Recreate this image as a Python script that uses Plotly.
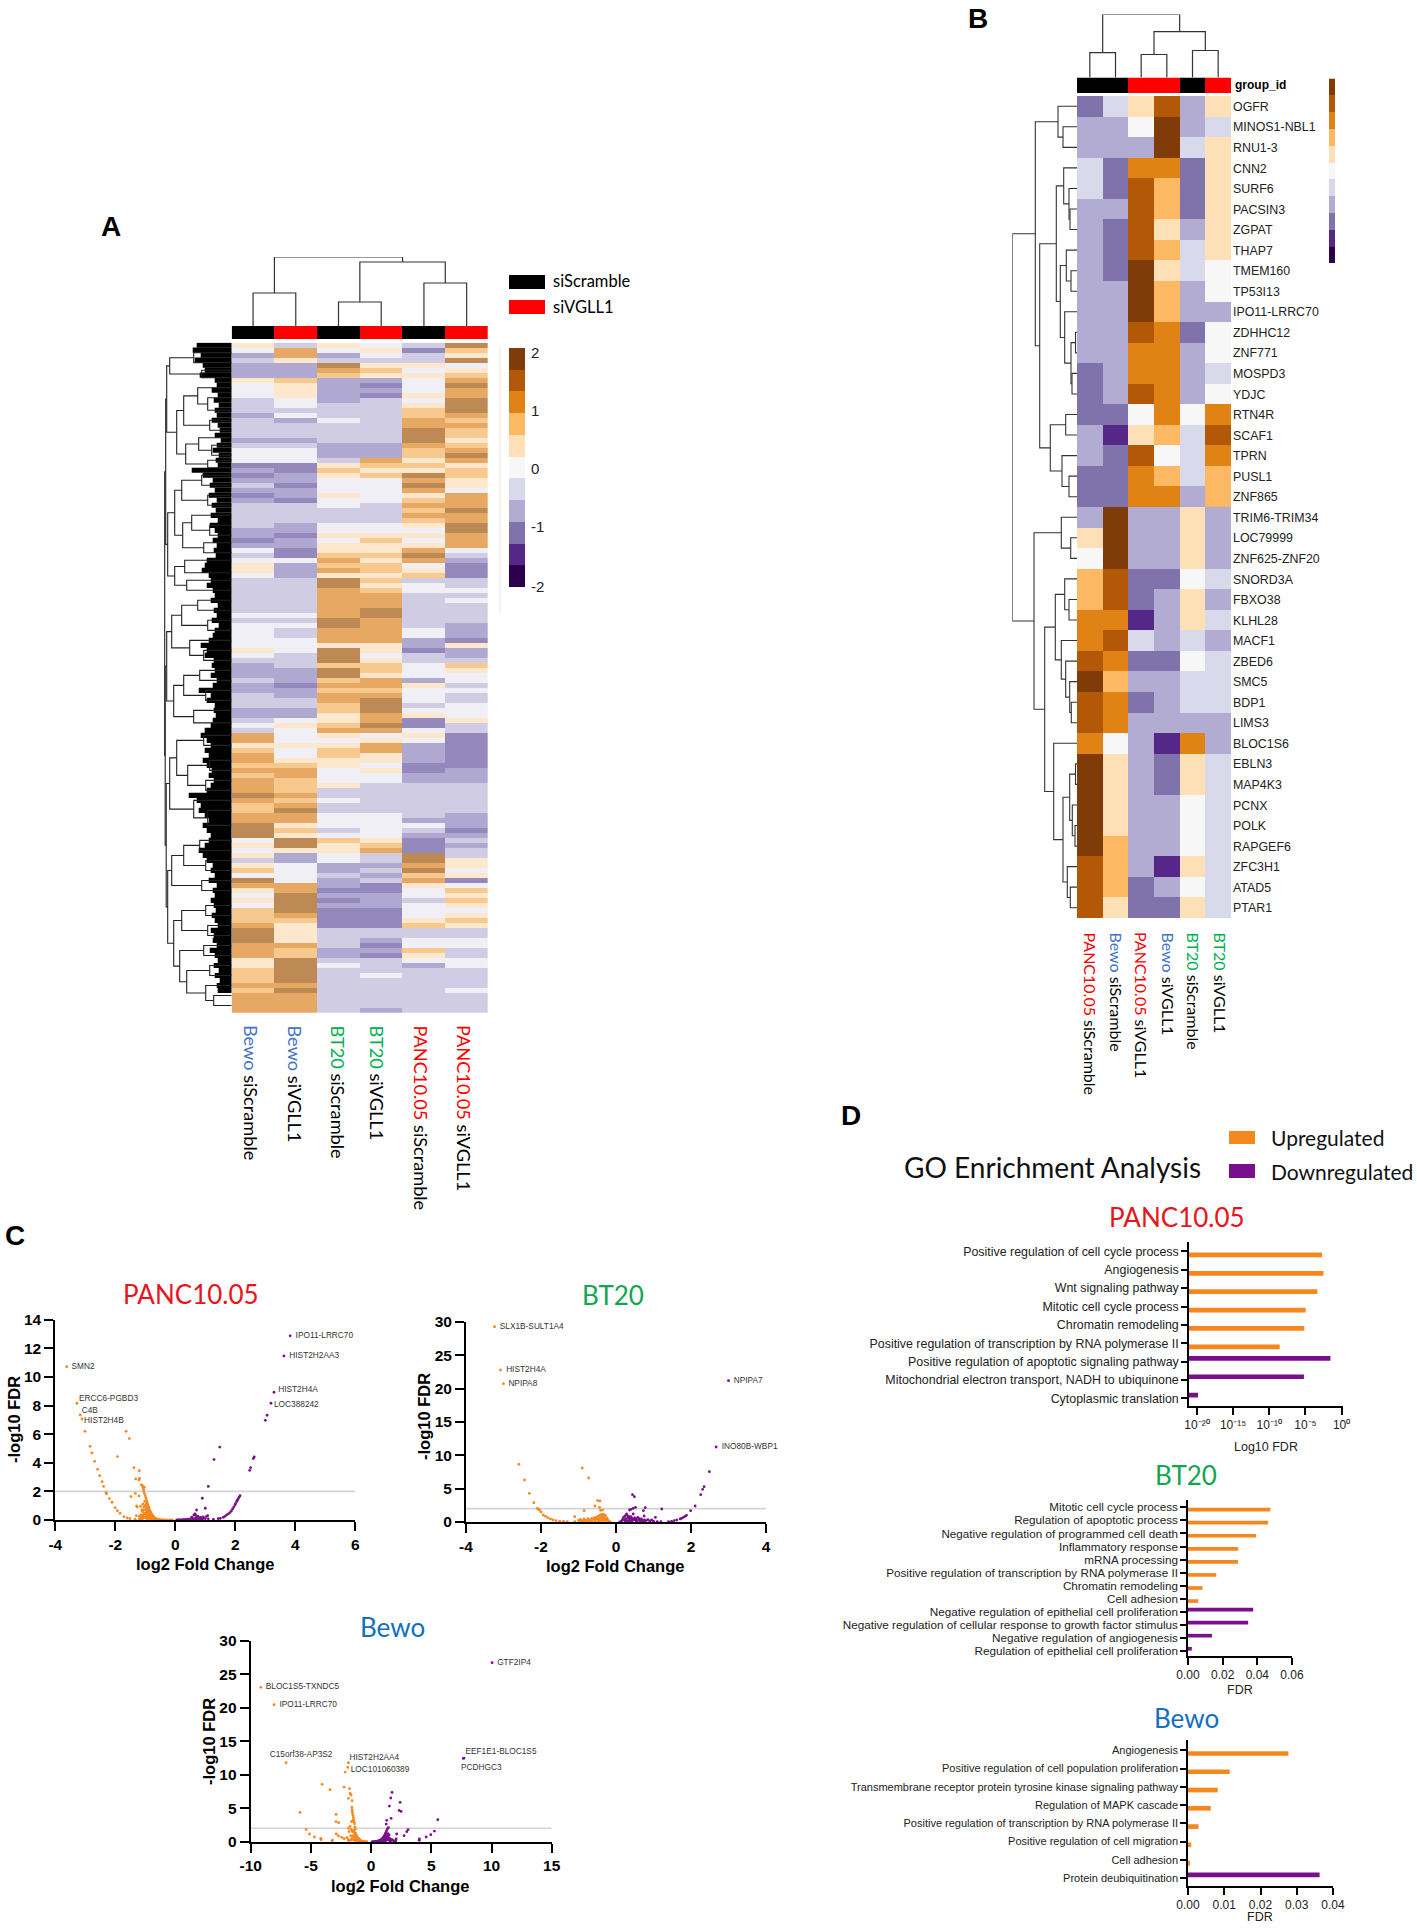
import plotly.graph_objects as go

W, H = 1417, 1928

# ---------- Panel A data (levels, one list per column) ----------
A_samples = ["Bewo siScramble", "Bewo siVGLL1", "BT20 siScramble", "BT20 siVGLL1", "PANC10.05 siScramble", "PANC10.05 siVGLL1"]
A_bewo_sc = [1,0,-2,-1,-2,-2,-2,1,0,0,0,-1,-1,-1,-2,-1,-1,-1,-1,-2,-1,0,0,0,-3,-2,-3,-2,-1,-2,-3,-2,-1,-1,-1,-1,-1,-2,-2,-3,-2,0,-1,0,1,
 1,0,-1,-1,-1,-1,-1,-1,-1,0,-1,0,0,0,0,0,1,0,-1,-2,-2,-2,-1,-2,-2,-1,-1,-1,-2,-2,-1,0,-1,3,3,1,2,3,3,2,3,2,3,3,3,
 4,3,2,2,3,3,4,4,4,0,1,0,1,-1,1,2,0,4,3,1,0,1,0,2,2,2,3,4,4,4,3,3,3,1,1,2,2,2,3,2,3,3,3,3]
A_bewo_si = [-1,3,3,1,-2,-2,-2,2,1,1,1,0,0,-1,0,-2,-1,-1,-1,-2,-1,0,0,0,-3,-3,-2,-2,-3,-2,-2,-3,-1,-1,-1,-1,-2,-2,-3,-2,-2,-3,-3,0,-2,
 -2,-2,-1,-1,-1,-1,-1,-1,-1,0,-1,0,-1,-1,0,0,0,-1,-1,-1,-2,-2,-2,-3,-2,-2,-1,-1,-2,-2,0,1,0,0,0,1,0,0,1,2,3,3,2,2,2,
 3,2,3,4,3,3,1,2,1,4,4,1,-2,-2,0,0,0,0,3,3,4,4,4,4,3,2,1,1,1,1,3,2,2,4,4,4,4,4,3,4,3,3,3,3]
A_bt20_sc = [1,0,-2,-1,4,3,2,-2,-2,-2,-2,-2,-1,-1,-1,0,-1,-1,-1,-1,-2,-2,-2,-1,1,2,1,0,0,0,1,0,0,-1,-1,-1,0,0,1,0,1,1,2,3,2,
 3,1,4,4,3,3,3,3,3,3,4,4,3,3,3,1,4,4,4,2,4,4,2,3,2,3,3,2,2,1,1,2,3,1,0,1,2,2,1,1,0,0,0,1,-1,
 -1,0,-1,-1,0,0,0,-1,0,2,1,1,0,0,-2,-2,-1,-2,-2,-3,-2,-3,-2,-3,-3,-3,-3,-1,-1,-1,-1,-2,-2,-1,0,-1,-1,-1,-1,-1,-1,-1,-1,-1]
A_bt20_si = [0,1,0,-1,1,2,1,-2,-3,-2,-3,-1,-1,-1,-1,-1,-1,-1,-1,-1,-2,-2,-2,3,2,1,2,0,0,0,0,0,-1,-1,-1,-1,0,0,1,2,1,1,2,1,2,
 2,1,2,1,2,3,3,3,4,4,3,3,3,3,3,1,1,0,1,2,2,1,3,3,2,3,4,4,4,3,3,4,3,0,1,3,3,1,1,0,1,0,0,-1,-1,
 -1,-1,-1,-1,0,0,0,0,0,1,2,3,-1,-1,-2,-1,-2,-1,-3,-3,-2,-2,-2,-3,-3,-3,-3,-1,-1,-2,-3,-2,-3,-1,-1,-1,0,-1,-1,-1,-1,-1,-1,-2]
A_panc_sc = [-1,-3,-1,-1,1,0,1,0,0,0,1,0,1,2,2,3,3,4,4,4,3,2,2,1,2,1,4,3,4,3,1,2,3,2,3,2,1,0,1,0,1,3,4,3,0,
 1,2,-1,0,0,-1,-1,-1,-1,-1,-1,-1,0,0,-2,-2,-3,-1,-1,0,0,0,-2,1,0,0,0,-1,0,1,-3,-3,0,1,0,-2,-2,-2,-2,-3,-3,-2,-2,-1,-1,
 -1,-1,-1,-1,-1,-2,0,-1,-2,-3,-3,-3,4,4,3,4,2,3,1,0,0,-1,0,0,0,1,2,-1,-1,0,0,2,1,0,-2,-1,-1,-1,-1,-1,-1,-1,-1,-1]
A_panc_si = [4,2,1,4,0,1,2,3,4,3,3,4,4,4,3,2,3,2,2,1,2,3,4,3,1,2,2,1,1,0,3,3,3,4,3,3,4,4,3,3,3,0,-1,-2,-3,
 -3,-3,-1,-1,0,-1,0,-1,-1,-1,-1,-2,-2,-2,-3,1,-2,-2,-1,2,1,0,0,-1,0,-1,-1,0,0,0,1,-1,-1,-3,-3,-3,-3,-3,-3,-3,-2,-2,-2,-1,-1,
 -1,-1,-1,-1,-2,-2,-2,-3,-2,-1,-2,-1,-1,1,1,0,1,-3,0,2,1,2,1,0,1,2,1,-1,-1,0,0,-1,-1,0,0,-1,-1,-1,-1,0,-1,-1,-1,-1]
A_levels = [-3,-2,-1,0,1,2,3,4]
A_level_colors = ["#9488bd","#afa8d0","#cfcce4","#f0eff6","#fde8cd","#f8c98f","#e6a862","#bd8a55"]
A_leaf_depth = [30,34,26,32,24,22,27,12,10,15,9,13,8,12,10,15,9,7,12,6,10,14,8,11,9,
 35,24,14,17,12,18,10,15,11,16,9,17,12,9,14,10,13,11,20,22,25,18,16,20,14,12,16,9,13,10,15,8,12,14,
 18,26,20,22,13,15,12,16,10,14,28,16,20,12,13,11,14,16,22,26,20,16,22,18,24,20,15,18,13,16,20,
 38,30,26,28,22,18,24,20,16,18,22,28,24,20,14,16,12,18,10,14,12,16,13,11,15,12,9,16,13,14,10,17,12,9,13,8,12,7,10,9]
A_tree = (67,
 (66,
  (65,
   (62,(38,1.5,3.5),(30,5,6.5)),
   (55,(48,(34,8.5,(24,10.5,13)),(22,15,17)),(46,(33,18.5,(20,20,22)),(24,23,24.5)))),
  (64,
   (57,(50,(30,26,28),(24,30,32)),(49,(40,34,(22,36,38)),(28,39.5,41.5))),
   (57,(47,43,45.5),(45,47,49)))),
 (66.5,
  (65,
   (60,(50,(34,51,53),(24,55,57)),(42,59,(28,61,63))),
   (58,(48,(32,65,67),(26,69,71)),(38,73,75.5))),
  (65.5,
   (62,(55,(28,78,80),(44,(22,83,85),(26,87,89))),(38,91,(24,93,96))),
   (64,
    (60,(48,(32,99,101),(26,103,105)),(30,107,109)),
    (58,(50,(26,112,114),(24,116,118)),(52,(28,120,122),(45,(22,124,126),(26,128,(18,130,132)))))))))
A_top_tree = (69,(33,0,1),(64,(24,2,3),(43,4,5)))
A_groups = [0,1,0,1,0,1]

# ---------- Panel B data (colour-bar level of every cell) ----------
B_genes = ["OGFR","MINOS1-NBL1","RNU1-3","CNN2","SURF6","PACSIN3","ZGPAT","THAP7","TMEM160","TP53I13","IPO11-LRRC70","ZDHHC12","ZNF771","MOSPD3","YDJC","RTN4R","SCAF1","TPRN","PUSL1","ZNF865","TRIM6-TRIM34","LOC79999","ZNF625-ZNF20","SNORD3A","FBXO38","KLHL28","MACF1","ZBED6","SMC5","BDP1","LIMS3","BLOC1S6","EBLN3","MAP4K3","PCNX","POLK","RAPGEF6","ZFC3H1","ATAD5","PTAR1"]
B_samples = ["PANC10.05 siScramble","Bewo siScramble","PANC10.05 siVGLL1","Bewo siVGLL1","BT20 siScramble","BT20 siVGLL1"]
B_panc_sc = [-3,-2,-2,-1,-1,-2,-2,-2,-2,-2,-2,-2,-2,-3,-3,-3,-2,-2,-3,-3,-2,1,0,2,2,3,3,4,5,4,4,3,5,5,5,5,5,4,4,4]
B_bewo_sc = [-1,-2,-2,-3,-3,-2,-3,-3,-3,-2,-2,-2,-2,-2,-2,-3,-4,-3,-3,-3,5,5,5,4,4,3,4,3,2,3,3,0,1,1,1,1,2,2,2,1]
B_panc_si = [1,0,-2,3,4,4,4,4,5,5,5,4,3,3,4,0,1,4,3,3,-2,-2,-2,-3,-3,-4,-1,-3,-2,-3,-2,-2,-2,-2,-2,-2,-2,-2,-3,-3]
B_bewo_si = [4,5,5,3,2,2,1,2,1,2,2,3,3,3,3,3,2,0,2,3,-2,-2,-2,-3,-2,-2,-2,-3,-2,-2,-2,-4,-3,-3,-2,-2,-2,-4,-2,-3]
B_bt20_sc = [-2,-2,-1,-3,-3,-3,-2,-1,-1,-2,-2,-3,-2,-2,-2,0,-1,-1,-1,-2,1,1,1,0,1,1,-1,0,-1,-1,-2,3,1,1,0,0,0,1,0,1]
B_bt20_si = [1,-1,1,1,1,1,1,1,0,0,-2,0,0,-1,0,3,4,3,2,2,-2,-2,-2,-1,-2,-1,-2,-1,-1,-1,-2,-2,-1,-1,-1,-1,-1,-1,-1,-1]
B_groups = [0,0,1,1,0,1]
B_tree = (64.7,
 (41.7,(19,0,(14,1,2)),
  (37.3,
   (20.7,(13.3,3,(8,4,(7,5,6))),(16.7,(10.7,7,(6,8,9)),(12.3,10,(6,(1.5,11,12),(5,13,14))))),
   (26.7,(11.3,15,16),(15,17,(8,18,19))))),
 (43,(15.7,20,(6.3,21,22)),
  (32.3,
   (21.7,(12.3,23,(8,24,25)),(15.7,26,(11.3,27,(7.3,28,(5.7,29,30))))),
   (23.3,31,(14,(7.3,(1.5,32,33),(4.7,34,(2,35,36))),(9.7,37,(6.7,38,39)))))))
B_top_tree = (63,(24.8,0,1),(45.8,(23,2,3),(27,4,5)))
PuOr_levels = [-5,-4,-3,-2,-1,0,1,2,3,4,5]
PuOr_colors = ["#2d004b","#542788","#8073ac","#b2abd2","#d8daeb","#f7f7f7","#fee0b6","#fdb863","#e08214","#b35806","#7f3b08"]
A_scale_labels = ["2","1","0","-1","-2"]

# ---------- Panel C data ----------
panc_up = [(-3.62,10.72),(-3.28,8.16),(-3.17,7.34),(-3.11,7.06),(-3.01,6.2),(-2.84,5.15),(-2.78,4.69),(-2.69,4.1),(-2.59,3.54),(-2.52,3.1),(-2.44,2.68),(-2.39,2.35),(-2.31,1.91),(-2.29,1.82),(-2.2,1.5),(-2.11,1.24),(-2.01,.86),(-1.93,.65),(-1.84,.47),(-1.71,.23),(-1.6,.14),(-1.51,.09),(-1.34,.05),(-1.2,.04),
 (-1.64,6.2),(-1.53,5.69),(-1.93,4.43),(-1.38,3.66),(-1.2,3.45),(-1.32,2.87),(-1.19,2.91),(-1.21,2.8),(-1.33,1.86),(-1.48,1.63),(-1.21,1.68),(-1.29,.98),(-1.27,.9),(-1.12,.7),(-1.16,.95),(-1.3,.3),(-1.2,.25),(-1.15,.35),(-1.08,1.1),(-1.1,.6),
 (-1.13,2.45),(-1.1,2.42),(-1.08,2.3),(-1.06,2.15),(-1.03,2.3),(-1.05,2.0),(-1.03,1.85),(-1.0,1.7),(-.98,1.55),(-.96,1.4),(-.94,1.25),(-.92,1.1),(-.9,.95),(-.88,.85),(-.86,.72),(-.84,.62),(-.82,.55),(-.8,.45),(-.78,.38),(-.75,.3),(-.72,.22),(-.7,.18),(-.66,.12),(-.62,.08),(-.58,.05),(-.54,.03),(-.5,.02),(-.45,.01),(-.4,.005),(-.34,0),(-.26,0),(-.18,0),(-.1,0),
 (-1.02,1.3),(-1.0,1.0),(-1.0,.7),(-1.0,.4),(-1.0,.15),(-.97,1.1),(-.97,.8),(-.97,.5),(-.97,.2),(-.94,.9),(-.94,.6),(-.94,.3),(-.94,.08),(-.91,.7),(-.91,.45),(-.91,.2),(-.88,.55),(-.88,.3),(-.88,.08),(-.85,.4),(-.85,.18),(-.82,.3),(-.82,.1),(-.79,.2),(-.79,.06),(-.75,.12),(-.72,.06),(-1.05,.9),(-1.05,.5),(-1.05,.2),(-1.08,.7),(-1.08,.35),(-1.08,.1),(-1.12,.25),(-1.12,.08),(-1.17,.12),(-.68,.05),(-.62,.02)]
panc_down = [(3.83,12.87),(3.62,11.47),(3.29,8.93),(3.19,8.16),(3.06,7.32),(3,6.97),(2.63,4.41),(2.6,4.29),(2.51,3.66),(2.48,3.47),(1.48,5.1),(1.29,4.22),(1.1,2.35),(.9,1.52),(1,.82),(.71,.7),
 (2.16,1.7),(2.13,1.6),(2.1,1.5),(2.07,1.38),(2.04,1.28),(2.01,1.15),(1.99,1.05),(1.95,.9),(1.91,.77),(1.87,.63),(1.82,.51),(1.77,.43),(1.71,.35),(1.65,.26),(1.6,.19),(1.5,.12),(1.43,.09),(1.27,.05),
 (.05,.01),(.12,.02),(.2,.03),(.28,.04),(.35,.05),(.42,.06),(.5,.08),(.55,.2),(.6,.1),(.62,.35),(.66,.42),(.68,.15),(.7,.3),(.74,.1),(.76,.25),(.8,.12),(.84,.18),(.88,.08),(.92,.22),(.96,.14),(1.0,.1),(1.04,.25),(1.08,.3),(1.1,.08),(.58,.05),(.64,.05),(.72,.04),(.82,.04),(.9,.03)]
panc_labels = [("SMN2",-3.46,10.72),("ERCC6-PGBD3",-3.21,8.46),("C4B",-3.12,7.62),("HIST2H4B",-3.04,6.92),("IPO11-LRRC70",4.01,12.87),("HIST2H2AA3",3.8,11.47),("HIST2H4A",3.43,9.09),("LOC388242",3.29,8.02)]

bt20_up = [(-3.24,29.3),(-3.08,22.8),(-3.0,20.75),(-2.59,8.65),(-2.44,6.3),(-2.31,4.3),(-2.19,2.9),(-2.1,2.05),(-2.07,1.9),(-2.04,1.8),(-2.0,1.5),(-1.94,1.05),(-1.88,.85),(-1.82,.65),(-1.75,.45),(-1.68,.3),(-1.6,.2),(-1.5,.12),(-1.4,.08),(-1.3,.06),
 (-.9,8.1),(-.73,6.6),(-.49,3.2),(-.43,3.15),(-.56,2.4),(-.44,2.2),(-.36,1.8),(-.41,1.75),(-.85,1.7),(-1.1,.8),
 (-1.0,.25),(-.95,.4),(-.9,.2),(-.85,.45),(-.8,.25),(-.75,.5),(-.7,.3),(-.65,.55),(-.6,.35),(-.58,.65),(-.55,.4),(-.52,.7),(-.5,.5),(-.48,.85),(-.46,.4),(-.44,1.0),(-.42,.6),(-.4,1.1),(-.38,.7),(-.36,1.15),(-.34,.5),(-.32,1.1),(-.3,.8),(-.28,1.0),(-.26,.5),(-.24,.6),(-.22,.3),(-.2,.15),(-.37,.3),(-.42,.2),(-.47,.15),(-.33,.2),(-.28,.2),(-.55,.1),(-.65,.1),(-.75,.1),(-.85,.08),(-.95,.06),(-1.1,.04),(-.15,.03),(-.38,1.0),(-.34,.9),(-.3,.4)]
bt20_down = [(3.0,21.2),(2.67,11.25),(2.49,7.55),(2.35,5.3),(2.31,4.9),(2.26,4.1),(2.11,2.4),(1.99,1.7),(1.88,1),(1.84,.85),(1.8,.7),(1.75,.55),(1.71,.45),(1.62,.3),(1.55,.2),(1.48,.1),(1.4,.06),
 (.44,4.1),(.49,3.8),(.52,2.2),(.46,2.05),(.36,1.8),(.4,1.9),(.78,2.15),(.73,1.7),(1.22,1.95),(.75,.9),(.46,1.2),(1.05,.7),(.28,1.2),
 (.15,.15),(.18,.4),(.2,.7),(.22,.3),(.24,.9),(.26,.5),(.3,1.0),(.32,.6),(.34,.85),(.36,.3),(.38,.6),(.4,.8),(.42,.3),(.44,.55),(.48,.35),(.5,.6),(.52,.25),(.54,.45),(.58,.7),(.6,.3),(.62,.5),(.66,.25),(.68,.45),(.72,.2),(.76,.3),(.8,.2),(.85,.35),(.9,.15),(.95,.3),(1.0,.12),(.25,.15),(.3,.2),(.35,.1),(.42,.1),(.55,.1),(.65,.08),(.75,.08),(1.1,.06),(1.2,.04),(.1,.03)]
bt20_labels = [("SLX1B-SULT1A4",-3.1,29.3),("HIST2H4A",-2.93,22.8),("NPIPA8",-2.87,20.75),("NPIPA7",3.14,21.2),("INO80B-WBP1",2.82,11.25)]

bewo_up = [(-9.16,23.07),(-8.06,20.48),(-7.06,11.8),(-1.88,11.8),(-1.94,11.1),(-2.16,10.41),(-4.07,8.57),(-3.41,7.77),(-2.24,8.17),(-1.8,7.92),(-1.74,7.22),(-1.66,6.98),(-1.88,6.48),(-1.58,6.13),(-5.9,4.38),(-2.91,4.09),(-2.69,2.84),(-2.91,2.99),(-5.4,1.84),(-5.12,1.15),(-4.71,.7),(-4.18,.5),(-4.15,.3),(-3.2,.25),(-3.25,.1),(-2.9,1.15),(-2.71,.85),(-2.44,.65),(-2.24,.45),(-1.88,2),(-1.83,1.5),(-2.0,.6),(-1.9,.3),
 (-1.6,5.13),(-1.58,4.8),(-1.56,4.5),(-1.54,4.2),(-1.5,3.9),(-1.47,3.6),(-1.44,3.3),(-1.42,3.0),(-1.38,2.7),(-1.34,2.2),(-1.3,1.9),(-1.62,3.0),(-1.5,3.2),(-1.75,2.3),(-1.65,1.8),(-1.55,1.5),(-1.45,1.7),(-1.4,1.4),(-1.36,1.2),(-1.3,1.3),(-1.25,1.0),(-1.2,.85),(-1.15,.7),(-1.1,.55),(-1.05,.45),(-1.0,.35),(-.95,.28),(-.9,.2),(-.85,.15),(-.8,.1),(-.7,.06),(-.6,.03),(-.5,.02),(-.35,.01),(-1.7,.9),(-1.6,.5),(-1.5,.9),(-1.5,.3),(-1.4,.7),(-1.4,.25),(-1.3,.8),(-1.3,.4),(-1.3,.1),(-1.2,.5),(-1.2,.15),(-1.1,.25),(-1.0,.12),(-.9,.08),(-1.7,.2),(-1.85,.15)]
bewo_down = [(10.05,26.76),(7.72,12.5),(7.66,12.45),(1.74,7.37),(1.63,6.53),(1.52,5.33),(2.41,5.88),(2.33,4.68),(2.49,4.53),(1.66,3.49),(1.3,3.19),(1.25,2.64),(5.54,3.29),(5.26,1.59),(4.96,1.05),(4.57,.7),(4.01,.4),(4.0,.2),(3.07,1.79),(2.96,1.5),(2.74,.9),(2.13,1.15),(2.08,.4),(2.05,.15),
 (1.44,2.1),(1.35,1.9),(1.28,1.6),(1.22,1.35),(1.18,1.15),(1.12,.95),(1.05,.75),(1.0,.6),(.9,.4),(.8,.3),(.7,.2),(.6,.12),(.5,.08),(.4,.05),(.3,.03),(.2,.02),(.1,.01),
 (1.3,.9),(1.25,.5),(1.2,.8),(1.15,.3),(1.1,.55),(1.0,.2),(.9,.15),(.8,.08),(1.35,.3),(1.4,.7),(1.45,.25),(1.5,.5),(1.55,.15),(1.6,.4),(1.65,.2),(1.75,.3),(1.85,.15),(2.0,.08),(1.5,1.0),(1.4,1.2),(1.6,.1),(1.2,.12),(1.05,.1)]
bewo_labels = [("GTF2IP4",10.47,26.76),("BLOC1S5-TXNDC5",-8.75,23.07),("IPO11-LRRC70",-7.61,20.48),("C15orf38-AP3S2",-8.42,12.9),("HIST2H2AA4",-1.8,12.5),("LOC101060389",-1.69,10.71),("EEF1E1-BLOC1S5",7.84,13.4),("PCDHGC3",7.47,11.06)]

# ---------- Panel D data ----------
D1_terms = ["Positive regulation of cell cycle process","Angiogenesis","Wnt signaling pathway","Mitotic cell cycle process","Chromatin remodeling","Positive regulation of transcription by RNA polymerase II","Positive regulation of apoptotic signaling pathway","Mitochondrial electron transport, NADH to ubiquinone","Cytoplasmic translation"]
D1_up = [2.0e-3,3.2e-3,4.5e-4,1.1e-5,7e-6,2.8e-9]
D1_down = [2.9e-2,6.3e-6,1.4e-20]
D1_ticks = [1e-20,1e-15,1e-10,1e-5,1]
D1_ticktext = ["10⁻²⁰","10⁻¹⁵","10⁻¹⁰","10⁻⁵","10⁰"]
D2_terms = ["Mitotic cell cycle process","Regulation of apoptotic process","Negative regulation of programmed cell death","Inflammatory response","mRNA processing","Positive regulation of transcription by RNA polymerase II","Chromatin remodeling","Cell adhesion","Negative regulation of epithelial cell proliferation","Negative regulation of cellular response to growth factor stimulus","Negative regulation of angiogenesis","Regulation of epithelial cell proliferation"]
D2_up = [.0475,.0462,.0393,.029,.0288,.0163,.0084,.0059]
D2_down = [.0376,.0347,.0138,.0022]
D3_terms = ["Angiogenesis","Positive regulation of cell population proliferation","Transmembrane receptor protein tyrosine kinase signaling pathway","Regulation of MAPK cascade","Positive regulation of transcription by RNA polymerase II","Positive regulation of cell migration","Cell adhesion","Protein deubiquitination"]
D3_up = [.0277,.0115,.0082,.0063,.0029,.0009,.0004]
D3_down = [.0363]

ORANGE, PURPLE = "#f5871f", "#7a0f8c"
SANS, HUM = "Liberation Sans", "Lato"
RED, GREEN, BLUE = "#e8141c", "#12a650", "#1070c0"

fig = go.Figure()
layout = dict(width=W, height=H, margin=dict(l=0, r=0, t=0, b=0, autoexpand=False), paper_bgcolor="white", plot_bgcolor="rgba(0,0,0,0)",
              showlegend=False, barmode="overlay", annotations=[], shapes=[])
counter = [0]

def axes(box, xr, yr, xopt=None, yopt=None):
    l, t, r, b = box
    counter[0] += 1
    n = counter[0]
    base = dict(showgrid=False, zeroline=False, showticklabels=False, ticks="", showline=False)
    xa = dict(base, domain=[l / W, r / W], range=xr, anchor=f"y{n}")
    ya = dict(base, domain=[1 - b / H, 1 - t / H], range=yr, anchor=f"x{n}")
    xa.update(xopt or {})
    ya.update(yopt or {})
    layout[f"xaxis{n}"] = xa
    layout[f"yaxis{n}"] = ya
    return f"x{n}", f"y{n}"

def text(x, y, s, size, color="black", family=SANS, xa="center", ya="middle", angle=0, weight=None):
    font = dict(size=size, color=color, family=family)
    if weight:
        font["weight"] = weight
    layout["annotations"].append(dict(x=x / W, y=1 - y / H, xref="paper", yref="paper", text=s, showarrow=False,
                                      font=font, xanchor=xa, yanchor=ya, textangle=angle, borderpad=0, borderwidth=0))

def box_rect(box, color):
    l, t, r, b = box
    layout["shapes"].append(dict(type="rect", xref="paper", yref="paper", x0=l / W, x1=r / W, y0=1 - b / H, y1=1 - t / H,
                                 fillcolor=color, line_width=0))

def tree_lines(node):
    """returns (position, height, xs, ys) with pos along leaves and height above them"""
    if not isinstance(node, tuple):
        return node, 0, [], []
    h, a, b = node
    pa, ha, xa_, ya_ = tree_lines(a)
    pb, hb, xb_, yb_ = tree_lines(b)
    xs = xa_ + xb_ + [pa, pa, pb, pb, None]
    ys = ya_ + yb_ + [ha, h, h, hb, None]
    return (pa + pb) / 2, h, xs, ys

def discrete_scale(colors):
    n = len(colors)
    out = []
    for i, c in enumerate(colors):
        out += [[i / n, c], [(i + 1) / n, c]]
    return out

def labelled(sample):
    name, rest = sample.split(" ")
    col = {"Bewo": "#4472c4", "BT20": "#00b050", "PANC10.05": "#ff0000"}[name]
    return f'<span style="color:{col}">{name}</span> {rest}'

def heat_panel(cols, colors, zmin, zmax, box):
    n = len(cols[0])
    x, y = axes(box, [-0.5, 5.5], [n - 0.5, -0.5])
    z = [[c[i] for c in cols] for i in range(n)]
    fig.add_trace(go.Heatmap(z=z, xaxis=x, yaxis=y, zmin=zmin, zmax=zmax, colorscale=discrete_scale(colors), showscale=False, hoverinfo="skip"))

def group_bar(groups, box):
    x, y = axes(box, [-0.5, 5.5], [-0.5, 0.5])
    fig.add_trace(go.Heatmap(z=[groups], xaxis=x, yaxis=y, zmin=0, zmax=1, colorscale=[[0, "black"], [1, "#ff0000"]], showscale=False, hoverinfo="skip"))

def scale_bar(box):
    x, y = axes(box, [-0.5, 0.5], [-0.5, 10.5])
    fig.add_trace(go.Heatmap(z=[[v] for v in PuOr_levels], xaxis=x, yaxis=y, zmin=-5.5, zmax=5.5, colorscale=discrete_scale(PuOr_colors), showscale=False, hoverinfo="skip"))

# ---------- Panel A ----------
AL, AR, AT, AB = 231.7, 488, 342.7, 1013
cols_A = [A_bewo_sc, A_bewo_si, A_bt20_sc, A_bt20_si, A_panc_sc, A_panc_si]
heat_panel(cols_A, A_level_colors, -3.5, 4.5, (AL, AT, AR, AB))
group_bar(A_groups, (AL, 326, AR, 339))
scale_bar((509, 348, 525, 587))
pos, h, xs, ys = tree_lines(A_top_tree)
x, y = axes((AL, 326 - 69, AR, 326), [-0.5, 5.5], [0, 69])
fig.add_trace(go.Scatter(x=xs, y=ys, xaxis=x, yaxis=y, mode="lines", line=dict(color="#333", width=1.2), hoverinfo="skip", cliponaxis=False))
nA = len(A_bewo_sc)
x, y = axes((AL - 68, AT, AL, AB), [68, 0], [nA - 0.5, -0.5])
cx, cy = [], []
for i, d in enumerate(A_leaf_depth):
    cx += [d + 5, 0, None]
    cy += [i, i, None]
fig.add_trace(go.Scatter(x=cx, y=cy, xaxis=x, yaxis=y, mode="lines", line=dict(color="black", width=5.2), hoverinfo="skip"))
pos, h, ys2, xs2 = tree_lines(A_tree)
fig.add_trace(go.Scatter(x=xs2, y=ys2, xaxis=x, yaxis=y, mode="lines", line=dict(color="#222", width=1.1), hoverinfo="skip", cliponaxis=False))
box_rect((509, 275, 545, 289), "black")
box_rect((509, 300, 545, 314), "#ff0000")
text(553, 281, "siScramble", 16.5, family=HUM, xa="left")
text(553, 307, "siVGLL1", 16.5, family=HUM, xa="left")
for lab, yy in zip(A_scale_labels, [352, 410, 468, 527, 586]):
    text(531, yy, lab, 15, color="#222", xa="left")
layout["shapes"].append(dict(type="line", xref="paper", yref="paper", x0=500 / W, x1=500 / W, y0=1 - 613 / H, y1=1 - 347 / H, line=dict(color="#efe3d6", width=1)))
for s, xx in zip(A_samples, [251.6, 295, 338, 377, 421, 464]):
    text(xx, 1025, labelled(s), 18.2, family=HUM, ya="top", angle=90)

# ---------- Panel B ----------
BL, BR, BT, BB = 1077, 1231, 96, 918
cols_B = [B_panc_sc, B_bewo_sc, B_panc_si, B_bewo_si, B_bt20_sc, B_bt20_si]
heat_panel(cols_B, PuOr_colors, -5.5, 5.5, (BL, BT, BR, BB))
group_bar(B_groups, (BL, 77.5, BR, 93))
scale_bar((1329, 78.5, 1335, 263))
pos, h, xs, ys = tree_lines(B_top_tree)
x, y = axes((BL, 77.5 - 63, BR, 77.5), [-0.5, 5.5], [0, 63])
fig.add_trace(go.Scatter(x=xs, y=ys, xaxis=x, yaxis=y, mode="lines", line=dict(color="#333", width=1.2), hoverinfo="skip", cliponaxis=False))
nB = len(B_genes)
x, y = axes((BL - 64.7, BT, BL, BB), [64.7, 0], [nB - 0.5, -0.5])
pos, h, ys2, xs2 = tree_lines(B_tree)
fig.add_trace(go.Scatter(x=xs2, y=ys2, xaxis=x, yaxis=y, mode="lines", line=dict(color="#333", width=1.1), hoverinfo="skip", cliponaxis=False))
x, y = axes((BR + 2, BT + 1.5, BR + 100, BB + 1.5), [0, 1], [nB - 0.5, -0.5])
fig.add_trace(go.Scatter(x=[0] * nB, y=list(range(nB)), text=B_genes, xaxis=x, yaxis=y, mode="text", textposition="middle right",
                         textfont=dict(size=12.4, color="#222", family=SANS), hoverinfo="skip", cliponaxis=False))
text(1235, 85.5, "group_id", 12, xa="left", weight=700)
for s, xx in zip(B_samples, [1090, 1116, 1142, 1168, 1193, 1220]):
    text(xx, 932, labelled(s), 16, family=HUM, ya="top", angle=90)

# ---------- Panel C ----------
def volcano(box, xr, yr, xt, yt, up, down, labels):
    tick = dict(showticklabels=True, ticks="outside", ticklen=9, tickwidth=2, showline=True, linewidth=2, linecolor="black", tickcolor="black",
                tickfont=dict(size=15.5, color="black", family=SANS, weight=700))
    x, y = axes(box, xr, yr, dict(tick, tickvals=xt, ticktext=[str(v) for v in xt]), dict(tick, tickvals=yt, ticktext=[str(v) for v in yt]))
    fig.add_trace(go.Scatter(x=xr, y=[2, 2], xaxis=x, yaxis=y, mode="lines", line=dict(color="#d4d4d4", width=1.6), hoverinfo="skip"))
    for pts, col in ((up, ORANGE), (down, PURPLE)):
        fig.add_trace(go.Scatter(x=[p[0] for p in pts], y=[p[1] for p in pts], xaxis=x, yaxis=y, mode="markers", cliponaxis=False,
                                 marker=dict(color=col, size=2.8, line_width=0), hoverinfo="skip"))
    fig.add_trace(go.Scatter(x=[l[1] for l in labels], y=[l[2] for l in labels], text=[l[0] for l in labels], xaxis=x, yaxis=y, mode="text",
                             textposition="middle right", textfont=dict(size=8.3, color="#333", family=SANS), cliponaxis=False, hoverinfo="skip"))

volcano((55.3, 1319.7, 355.3, 1520), [-4, 6], [0, 14], [-4, -2, 0, 2, 4, 6], [0, 2, 4, 6, 8, 10, 12, 14], panc_up, panc_down, panc_labels)
volcano((466, 1322, 766, 1522), [-4, 4], [0, 30], [-4, -2, 0, 2, 4], [0, 5, 10, 15, 20, 25, 30], bt20_up, bt20_down, bt20_labels)
volcano((250.7, 1641, 551.7, 1841.7), [-10, 15], [0, 30], [-10, -5, 0, 5, 10, 15], [0, 5, 10, 15, 20, 25, 30], bewo_up, bewo_down, bewo_labels)
XT, YT = "log2 Fold Change", "-log10 FDR"
for tx, ty, yx, yy in ((205, 1564, 14, 1420), (615, 1566, 424, 1417), (400, 1886, 209, 1742)):
    text(tx, ty, XT, 16.5, weight=700)
    text(yx, yy, YT, 16.5, angle=-90, weight=700)
text(191, 1294, "PANC10.05", 26, RED, HUM)
text(613, 1295, "BT20", 26, GREEN, HUM)
text(392, 1627, "Bewo", 26, BLUE, HUM)

# ---------- Panel D ----------
def go_bars(box, xopt, terms, up, down, yr, bar_w, off_up, off_down, size):
    tick = dict(showticklabels=True, ticks="outside", tickwidth=1.5, showline=True, linewidth=1.5, linecolor="black", tickcolor="black",
                tickfont=dict(size=size, color="#222", family=SANS))
    x, y = axes(box, xopt.pop("range"), yr, dict(tick, ticklen=7, **xopt),
                dict(tick, ticklen=6, type="category", categoryorder="array", categoryarray=terms, tickvals=terms))
    layout[x.replace("x", "xaxis")]["tickfont"] = dict(size=12, color="#222", family=SANS)
    fig.add_trace(go.Bar(y=terms[:len(up)], x=up, orientation="h", xaxis=x, yaxis=y, marker=dict(color=ORANGE, line_width=0), width=bar_w, offset=off_up, hoverinfo="skip"))
    fig.add_trace(go.Bar(y=terms[len(up):], x=down, orientation="h", xaxis=x, yaxis=y, marker=dict(color=PURPLE, line_width=0), width=bar_w, offset=off_down, hoverinfo="skip"))

go_bars((1189, 1242, 1343, 1406),
        dict(range=[-21.1, 0.2], type="log", tickvals=D1_ticks, ticktext=D1_ticktext),
        D1_terms, D1_up, D1_down, [8.41, -0.51], 0.255, 0.065, -0.31, 12.4)
go_bars((1188, 1500, 1292, 1656),
        dict(range=[0, 0.06], tickvals=[0, .02, .04, .06], ticktext=["0.00", "0.02", "0.04", "0.06"]),
        D2_terms, D2_up, D2_down, [11.38, -0.56], 0.28, 0.035, -0.315, 11.7)
go_bars((1188, 1740, 1333, 1886),
        dict(range=[0, 0.04], tickvals=[0, .01, .02, .03, .04], ticktext=["0.00", "0.01", "0.02", "0.03", "0.04"]),
        D3_terms, D3_up, D3_down, [7.43, -0.56], 0.255, 0.05, -0.31, 11)
text(1266, 1447, "Log10 FDR", 12.5, "#222")
text(1240, 1690, "FDR", 12.5, "#222")
text(1260, 1917, "FDR", 12.5, "#222")
text(1177, 1217, "PANC10.05", 26, RED, HUM)
text(1186, 1475, "BT20", 26, GREEN, HUM)
text(1186, 1718, "Bewo", 26, BLUE, HUM)
text(1052, 1167, "GO Enrichment Analysis", 28, "#111", HUM)
box_rect((1229, 1131, 1255, 1144), ORANGE)
box_rect((1229, 1164, 1255, 1178), PURPLE)
text(1271, 1137, "Upregulated", 21, "#111", HUM, xa="left")
text(1271, 1171, "Downregulated", 21, "#111", HUM, xa="left")

# panel letters
for s, xx, yy in (("A", 111, 226), ("B", 978, 19), ("C", 15, 1235), ("D", 851, 1115)):
    text(xx, yy, s, 28, weight=700)

fig.update_layout(**layout)
fig.write_html("out.html", config=dict(displayModeBar=False),
               post_script="document.body.style.margin='0';document.documentElement.style.overflow='hidden';")
